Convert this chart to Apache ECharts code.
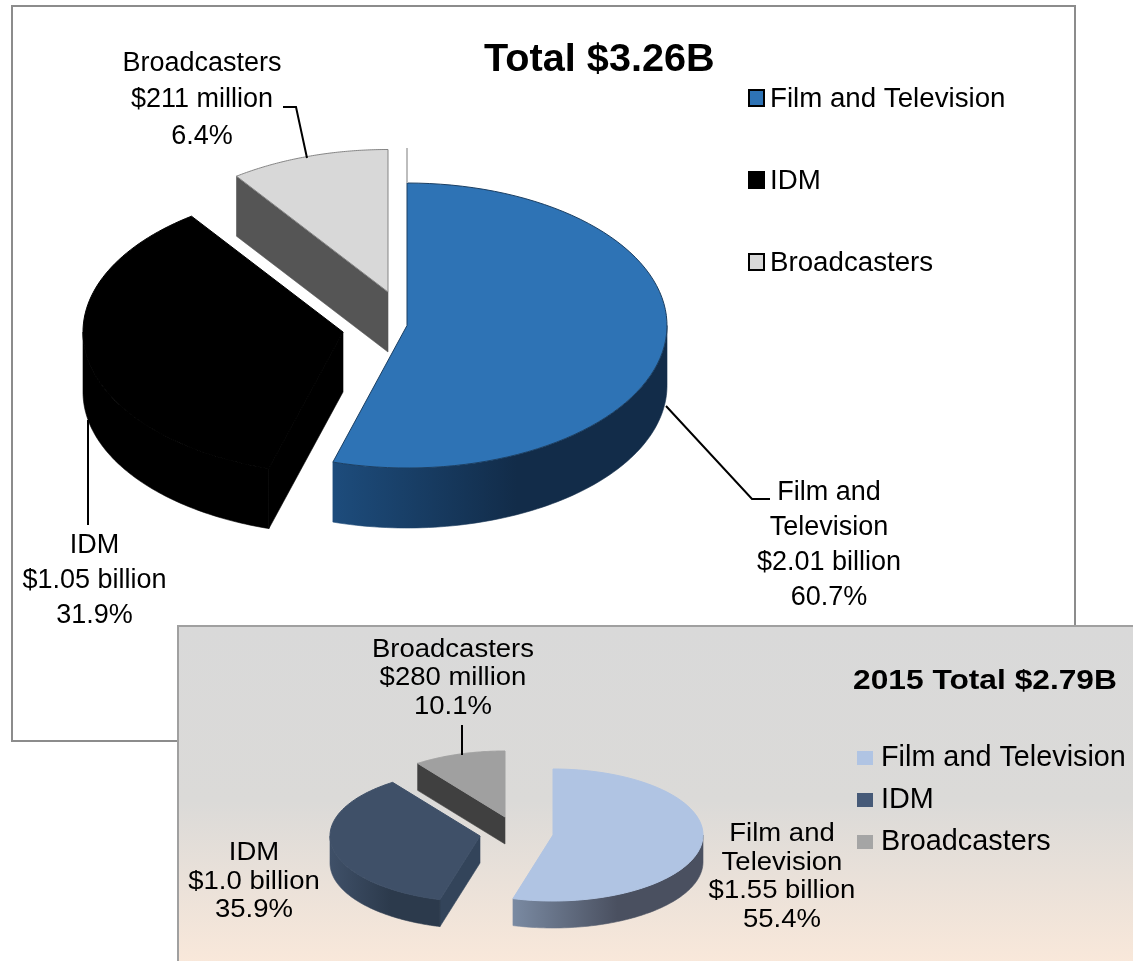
<!DOCTYPE html>
<html><head><meta charset="utf-8">
<style>html,body{margin:0;padding:0;background:#fff}#c{width:1133px;height:961px}</style>
<script src="https://cdn.jsdelivr.net/npm/echarts@6/dist/echarts.min.js"></script>
</head><body><div id="c"></div>
<script>
// DATA
const categories = ['Film and Television', 'IDM', 'Broadcasters'];
// Slice shares as actually drawn in the picture (the artwork does not follow its printed percentages)
const drawnShareMain = [54.6, 35.5, 9.9];
const drawnShareInset = [54.3, 35.8, 9.9];
const amountsMain = ['$2.01 billion', '$1.05 billion', '$211 million'];
const percentsMain = ['60.7%', '31.9%', '6.4%'];
const amountsInset = ['$1.55 billion', '$1.0 billion', '$280 million'];
const percentsInset = ['55.4%', '35.9%', '10.1%'];
const titleMain = 'Total $3.26B';
const titleInset = '2015 Total $2.79B';

// LAYOUT + STYLE
const FONT = '"Liberation Sans", Arial, sans-serif';
const pieMain = {
  a: 260, b: 142.5, depth: 60,
  centers: [[407, 325.5], [343, 332], [388, 292]],
  top: ['#2e73b5', '#000000', '#d8d8d8'],
  topStroke: ['#1b3f63', '#000000', '#858585'],
  flat: ['#1c4a78', '#000000', '#555555'],
  wall: [['#1d4c7c', '#122c49'], ['#000000', '#000000'], ['#555555', '#555555']]
};
const pieInset = {
  a: 150, b: 66, depth: 27,
  centers: [[553, 835], [480, 836], [505, 817]],
  top: ['#b0c4e3', '#3f5068', '#a0a0a0'],
  topStroke: ['#b0c4e3', '#3f5068', '#a0a0a0'],
  flat: ['#7a8aa2', '#33445a', '#404040'],
  wall: [['#7a8aa2', '#4a5060'], ['#3f5068', '#2c3a4c'], ['#404040', '#404040']]
};

function wedge(params, api, pie, i) {
  const share = api.value(0), before = api.value(1);
  const t1 = before * 3.6 * Math.PI / 180, t2 = (before + share) * 3.6 * Math.PI / 180;
  const [cx, cy] = pie.centers[i];
  const P = (t, dy) => [cx + pie.a * Math.sin(t), cy - pie.b * Math.cos(t) + (dy || 0)];
  const arc = (s, e, dy) => {
    const out = [], n = 80;
    for (let k = 0; k <= n; k++) out.push(P(s + (e - s) * k / n, dy));
    return out;
  };
  const children = [];
  if (Math.sin(t1) < -0.01) {
    children.push({ type: 'polygon', shape: { points: [[cx, cy], P(t1), P(t1, pie.depth), [cx, cy + pie.depth]] },
      style: { fill: pie.flat[i], stroke: pie.flat[i], lineWidth: 0.6 } });
  }
  const ws = Math.max(t1, Math.PI / 2), we = Math.min(t2, 3 * Math.PI / 2);
  if (we > ws) {
    const pts = arc(ws, we, 0).concat(arc(ws, we, pie.depth).reverse());
    const xs = pts.map(p => p[0]);
    const x0 = Math.min.apply(null, xs), x1 = Math.max.apply(null, xs);
    const grad = () => new echarts.graphic.LinearGradient(x0, 0, x1, 0,
        [{ offset: 0, color: pie.wall[i][0] }, { offset: 0.55, color: pie.wall[i][1] }, { offset: 1, color: pie.wall[i][1] }], true);
    children.push({ type: 'polygon', shape: { points: pts }, style: { fill: grad(), stroke: grad(), lineWidth: 0.6 } });
  }
  children.push({ type: 'polygon', shape: { points: [[cx, cy]].concat(arc(t1, t2, 0)) },
    style: { fill: pie.top[i], stroke: pie.topStroke[i], lineWidth: 1 } });
  return { type: 'group', children };
}

function seriesFor(shares, pie) {
  let run = 0;
  return shares.map((s, i) => {
    const row = [s, run]; run += s;
    return { type: 'custom', name: categories[i], coordinateSystem: 'none', silent: true,
      animation: false, itemStyle: { color: pie.top[i] }, data: [row],
      renderItem: (p, api) => wedge(p, api, pie, i) };
  });
}

function text(str, x, y, size, opts) {
  opts = opts || {};
  return { type: 'text', x, y, scaleX: opts.scaleX || 1, z: 20, silent: true,
    style: { text: str, x: 0, y: 0, align: opts.align || 'center', verticalAlign: 'middle',
      fontFamily: FONT, fontSize: size, fontWeight: opts.weight || 'normal',
      lineHeight: opts.lineHeight, fill: '#000' } };
}
function line(points, color, width) {
  return { type: 'polyline', z: 19, silent: true, shape: { points },
    style: { stroke: color || '#000', lineWidth: width || 2, fill: null } };
}
const label = (parts) => parts.join('\n');

const graphics = [
  { type: 'rect', z: -2, silent: true, shape: { x: 12, y: 6, width: 1063, height: 735 },
    style: { fill: '#fff', stroke: '#8c8c8c', lineWidth: 2 } },
  { type: 'rect', z: -1, silent: true, shape: { x: 178, y: 626, width: 970, height: 350 },
    style: { stroke: '#a0a0a0', lineWidth: 2,
      fill: new echarts.graphic.LinearGradient(0, 0, 0, 1, [
        { offset: 0, color: '#d9d9d9' }, { offset: 0.5, color: '#dbdad8' }, { offset: 0.96, color: '#f9e8da' }, { offset: 1, color: '#f9e8da' }]) } },
  text(titleMain, 484, 60, 39, { align: 'left', weight: 'bold', scaleX: 1.017 }),
  text(titleInset, 853, 681, 28, { align: 'left', weight: 'bold', scaleX: 1.133 }),
  // main labels
  text(label([categories[2], amountsMain[2], percentsMain[2]]), 202, 100, 27, { lineHeight: 36.5 }),
  text(label(['Film and', 'Television', amountsMain[0], percentsMain[0]]), 829, 545.5, 27, { lineHeight: 35 }),
  text(label([categories[1], amountsMain[1], percentsMain[1]]), 94.5, 581, 27, { lineHeight: 35 }),
  // inset labels
  text(label([categories[2], amountsInset[2], percentsInset[2]]), 453, 678.5, 25, { lineHeight: 28.5, scaleX: 1.1 }),
  text(label(['Film and', 'Television', amountsInset[0], percentsInset[0]]), 782, 877, 25, { lineHeight: 28.7, scaleX: 1.1 }),
  text(label([categories[1], amountsInset[1], percentsInset[1]]), 254, 882, 25, { lineHeight: 28.5, scaleX: 1.1 }),
  // leaders
  line([[283, 107], [296, 107], [307, 158]]),
  line([[88, 420], [88, 525]]),
  line([[666, 406], [752, 499], [770, 499]]),
  line([[462, 725], [462, 755]]),
  line([[407, 148], [407, 183]], '#bdbdbd', 2)
];

const legendBase = { orient: 'vertical', align: 'left', selectedMode: false, icon: 'rect', z: 10 };

const chart = echarts.init(document.getElementById('c'), null, { renderer: 'canvas' });
chart.setOption({
  animation: false,
  backgroundColor: '#fff',
  graphic: graphics,
  legend: [
    Object.assign({}, legendBase, {
      left: 748, top: 85, itemWidth: 15, itemHeight: 16, itemGap: 54, padding: 0,
      formatter: '{t|{name}}',
      textStyle: { fontFamily: FONT, color: '#000', fontSize: 27.7,
        rich: { t: { fontFamily: FONT, color: '#000', fontSize: 27.7, padding: [2, 0, 0, 1] } } },
      data: categories.map((n, i) => ({ name: n, itemStyle: { color: pieMain.top[i], borderColor: '#000', borderWidth: 2 } }))
    }),
    Object.assign({}, legendBase, {
      left: 857, top: 744, itemWidth: 16, itemHeight: 14, itemGap: 13, padding: 0,
      formatter: '{t|{name}}',
      textStyle: { fontFamily: FONT, color: '#000', fontSize: 28.8,
        rich: { t: { fontFamily: FONT, color: '#000', fontSize: 28.8, padding: [1, 0, 0, 3] } } },
      data: categories.map((n, i) => ({ name: n, itemStyle: { color: ['#b0c4e3', '#465a78', '#a5a5a5'][i], borderWidth: 0 } }))
    })
  ],
  series: seriesFor(drawnShareMain, pieMain).concat(seriesFor(drawnShareInset, pieInset))
});
</script></body></html>
